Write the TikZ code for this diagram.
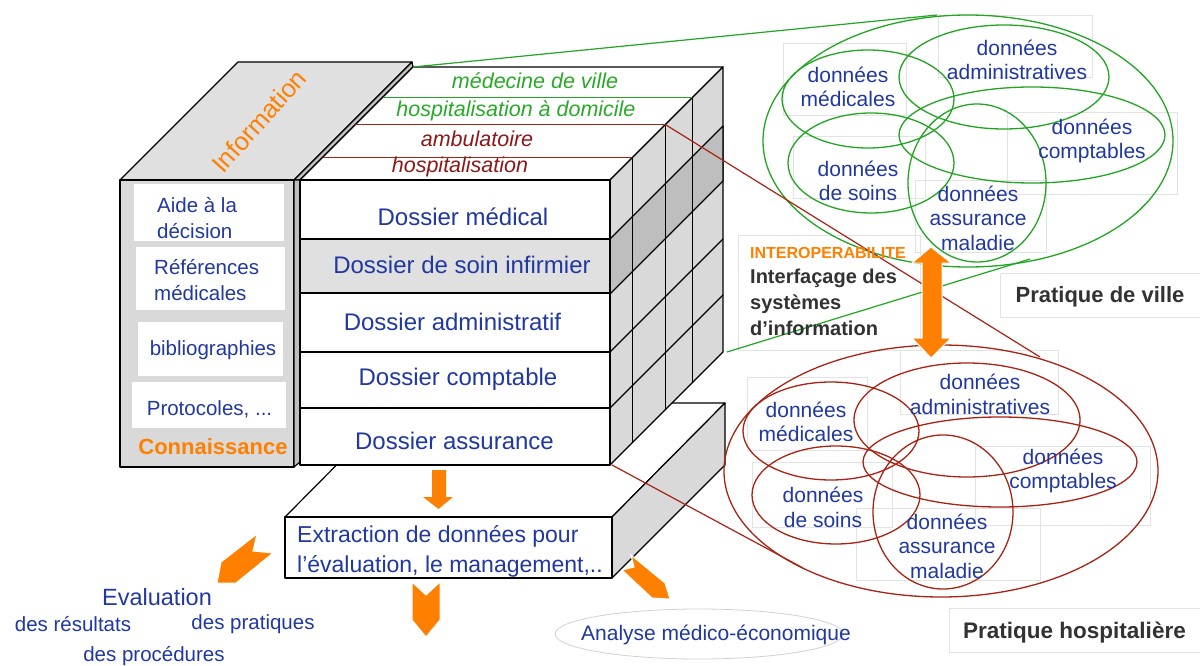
\documentclass[tikz,border=0pt]{standalone}
\usepackage{fontspec}
\setmainfont{Liberation Sans}
\definecolor{tblue}{RGB}{32,56,160}
\definecolor{torange}{RGB}{255,128,0}
\definecolor{tgreen}{RGB}{34,165,34}
\definecolor{tgtext}{RGB}{40,170,40}
\definecolor{tred}{RGB}{168,35,20}
\definecolor{tdred}{RGB}{140,25,25}
\definecolor{gface}{RGB}{217,217,217}
\definecolor{gdark}{RGB}{190,190,190}
\definecolor{gtopc}{RGB}{224,224,224}
\definecolor{tgray}{RGB}{50,50,50}
\tikzset{
  edge/.style={draw=black, line width=1.2pt, line join=round},
  ghost/.style={draw=black!11, line width=0.7pt},
  dtxt/.style={text=tblue, inner sep=0pt, font=\fontsize{24}{29}\selectfont},
  ktxt/.style={text=tblue, inner sep=0pt, align=left, font=\fontsize{20.5}{26}\selectfont},
  ctxt/.style={text=tblue, inner sep=0pt, align=center, font=\fontsize{21}{24.5}\selectfont},
  ttxt/.style={inner sep=0pt, font=\fontsize{21.5}{26}\selectfont\itshape},
  gell/.style={draw=tgreen, line width=1.3pt},
  rell/.style={draw=tred, line width=1.3pt},
  arr/.style={fill=torange, draw=white, line width=1pt, line join=miter},
  btxt/.style={inner sep=0pt, font=\fontsize{20}{26}\selectfont\bfseries, text=tgray, align=left}
}
\begin{document}
\begin{tikzpicture}[x=1pt,y=-1pt]
\useasboundingbox (0,0) rectangle (1200,666);
\fill[white] (0,0) rectangle (1200,666);

% faint text-box frames
\draw[ghost] (783,43) rectangle (906,115);
\draw[ghost] (938,15) rectangle (1092,77);
\draw[ghost] (1007,112) rectangle (1177,194);
\draw[ghost] (793,136) rectangle (925,198);
\draw[ghost] (915,180) rectangle (1046,252);
\draw[ghost] (738,235) rectangle (920,350);
\draw[ghost] (1000,273) rectangle (1200,317);
\draw[ghost] (747,377) rectangle (867,450);
\draw[ghost] (900,350) rectangle (1058,414);
\draw[ghost] (975,446) rectangle (1150,525);
\draw[ghost] (752,462) rectangle (892,527);
\draw[ghost] (856,508) rectangle (1040,580);
\draw[ghost] (949,608) rectangle (1200,652);

% ---------- Information slab ----------
\draw[edge, fill=gtopc] (120,180) -- (294,180) -- (412,62) -- (238,62) -- cycle;
\draw[edge, fill=gdark] (294,180) -- (412,62) -- (413,67) -- (300,180) -- cycle;
\node[text=torange, rotate=48, inner sep=0pt, font=\fontsize{25.5}{28}\selectfont] (info) at (259,121) {Information};

% ---------- Connaissance block ----------
\draw[edge, fill=gface] (120,180) rectangle (294,467);
\draw[edge, fill=gdark] (294,180) -- (300,180) -- (300,462) -- (294,467) -- cycle;
\fill[white] (134,184) rectangle (284,241);
\fill[white] (136,247) rectangle (285,310);
\fill[white] (138,322) rectangle (283,376);
\fill[white] (132,382) rectangle (286,428);
\node[ktxt, anchor=west] (k1) at (157,218) {Aide à la\\décision};
\node[ktxt, anchor=west] (k2) at (154,280.5) {Références\\médicales};
\node[ktxt] (k3) at (213,350) {bibliographies};
\node[ktxt] (k4) at (209.5,409) {Protocoles, ...};
\node[text=torange, inner sep=0pt, font=\fontsize{22}{26}\selectfont\bfseries] (conn) at (213,447) {Connaissance};

% ---------- Extraction tray ----------
\draw[edge, fill=white] (285,517) -- (612,517) -- (725,403) -- (398,403) -- cycle;
\draw[edge, fill=gface] (612,517) -- (725,403) -- (725,465) -- (612,578) -- cycle;
\draw[edge, fill=white] (285,517) rectangle (612,578);
\node[text=tblue, inner sep=0pt, anchor=west, align=left, font=\fontsize{23}{30}\selectfont] (extr) at (297,551) {Extraction de données pour\\l’évaluation, le management,..};

% ---------- Cube ----------
\draw[edge, fill=white] (300,180) -- (610,180) -- (723,67) -- (413,67) -- cycle;
\draw[edge, fill=gface] (610,180) -- (723,67) -- (723,352) -- (610,465) -- cycle;
\draw[edge, fill=gdark] (610,239) -- (723,126) -- (723,181) -- (610,294) -- cycle;
\foreach \yy in {352,408} \draw[edge] (610,\yy) -- ++(113,-113);
% layer lines on top
\draw[tred, line width=1.2pt] (322.6,157.4) -- (632.6,157.4);
\draw[tred, line width=1.2pt] (355.4,124.6) -- (665.4,124.6);
\draw[tgreen, line width=1.2pt] (382.5,97.5) -- (692.5,97.5);
\draw[edge] (632.6,157.4) -- (632.6,442.4);
\draw[edge] (665.4,124.6) -- (665.4,409.6);
\draw[edge] (692.5,97.5) -- (692.5,382.5);
\node[ttxt, text=tgtext] (t1) at (535,81) {médecine de ville};
\node[ttxt, text=tgtext] (t2) at (516,111) {hospitalisation à domicile};
\node[ttxt, text=tdred] (t3) at (477,139) {ambulatoire};
\node[ttxt, text=tdred] (t4) at (460,167) {hospitalisation};
% rows
\draw[edge, fill=white] (300,180) rectangle (610,239);
\draw[edge, fill=gtopc] (300,239) rectangle (610,293);
\draw[edge, fill=white] (300,293) rectangle (610,352);
\draw[edge, fill=white] (300,352) rectangle (610,408);
\draw[edge, fill=white] (300,408) rectangle (610,465);
\node[dtxt] (d1) at (463,217) {Dossier médical};
\node[dtxt] (d2) at (462,265) {Dossier de soin infirmier};
\node[dtxt] (d3) at (452.5,322) {Dossier administratif};
\node[dtxt] (d4) at (458,379) {Dossier comptable};
\node[dtxt] (d5) at (454.5,441) {Dossier assurance};

% connector anchor points
\coordinate (cubeTLB) at (413,67);
\coordinate (cubeBRB) at (727,352);
\coordinate (ambEnd) at (665.4,124.6);
\coordinate (cubeBRF) at (612,465);
\coordinate (vTop) at (937,15);
\coordinate (vBot) at (1030,259);
\coordinate (hTop) at (1040,357);
\coordinate (hLow) at (803,568);

% ---------- Pratique de ville ellipses ----------
\draw[gell] (968,141) ellipse [x radius=205, y radius=126];
\draw[gell] (868,99) ellipse [x radius=86, y radius=49];
\draw[gell] (1004,77) ellipse [x radius=105, y radius=52];
\draw[gell] (1032,135) ellipse [x radius=133, y radius=48];
\draw[gell] (871,163) ellipse [x radius=83, y radius=50];
\draw[gell] (977,183) ellipse [x radius=69, y radius=79];
\node[ctxt] (v1) at (848,87) {données\\médicales};
\node[ctxt] (v2) at (1017,60) {données\\administratives};
\node[ctxt] (v3) at (1092,141) {données\\comptables};
\node[ctxt] (v4) at (858,181) {données\\de soins};
\node[ctxt] (v5) at (978,218) {données\\assurance\\maladie};

% ---------- Pratique hospitaliere ellipses ----------
\draw[rell] (941,471) ellipse [x radius=217, y radius=126];
\draw[rell] (831,431) ellipse [x radius=88, y radius=49];
\draw[rell] (967,420) ellipse [x radius=113, y radius=57];
\draw[rell] (1000,462) ellipse [x radius=137, y radius=45];
\draw[rell] (836,495) ellipse [x radius=84, y radius=49];
\draw[rell] (943,512) ellipse [x radius=70, y radius=77];
\node[ctxt] (h1) at (806,422) {données\\médicales};
\node[ctxt] (h2) at (980,394.5) {données\\administratives};
\node[ctxt] (h3) at (1063,471) {données\\comptables};
\node[ctxt] (h4) at (823,507.5) {données\\de soins};
\node[ctxt] (h5) at (947,546) {données\\assurance\\maladie};

% ---------- connectors ----------
\draw[tgreen, line width=1.2pt] (cubeTLB) -- (vTop);
\draw[tgreen, line width=1.2pt] (cubeBRB) -- (vBot);
\draw[tred, line width=1.2pt] (ambEnd) -- (hTop);
\draw[tred, line width=1.2pt] (cubeBRF) -- (hLow);

% ---------- interoperability ----------
\node[inner sep=0pt, anchor=west, text=torange, font=\fontsize{16}{18}\selectfont\bfseries] (iop) at (750,253) {INTEROPERABILITE};
\node[btxt, anchor=north west] (iface) at (750,269) {Interfaçage des\\systèmes\\d’information};
\draw[arr] (931,247) -- (951,263) -- (942,263) -- (942,338) -- (951,338) -- (931,358) -- (912,338) -- (922,338) -- (922,263) -- (912,263) -- cycle;
\node[inner sep=0pt, font=\fontsize{22}{26}\selectfont\bfseries, text=tgray] (pv) at (1100,297) {Pratique de ville};
\node[inner sep=0pt, font=\fontsize{22.5}{26}\selectfont\bfseries, text=tgray] (ph) at (1074.5,633) {Pratique hospitalière};

% ---------- orange arrows ----------
\draw[fill=torange, draw=none] (432,470) -- (446,470) -- (446,497) -- (453,497) -- (438.5,509) -- (423,497) -- (432,497) -- cycle;
\draw[arr] (412,582) -- (426,595) -- (440,582) -- (440,620) -- (426,637) -- (412,620) -- cycle;
\draw[arr] (257,534) -- (253,551) -- (273,553) -- (236,583) -- (217,583) -- (221,562) -- cycle;
\draw[arr] (631,555) -- (665,583) -- (670,599) -- (652,598) -- (622,570) -- (634,567) -- cycle;

% ---------- evaluation ----------
\node[text=tblue, inner sep=0pt, font=\fontsize{23.5}{28}\selectfont] (eval) at (157,597) {Evaluation};
\node[text=tblue, inner sep=0pt, font=\fontsize{20.5}{24}\selectfont] (e1) at (73,624) {des résultats};
\node[text=tblue, inner sep=0pt, font=\fontsize{20.5}{24}\selectfont] (e2) at (253,624) {des pratiques};
\node[text=tblue, inner sep=0pt, font=\fontsize{20.5}{24}\selectfont] (e3) at (154,656) {des procédures};

\draw[draw=black!18, line width=0.8pt] (699,634) ellipse [x radius=144, y radius=25];
\node[text=tblue, inner sep=0pt, font=\fontsize{21}{24}\selectfont] (ana) at (716,635) {Analyse médico-économique};
\end{tikzpicture}
\end{document}
